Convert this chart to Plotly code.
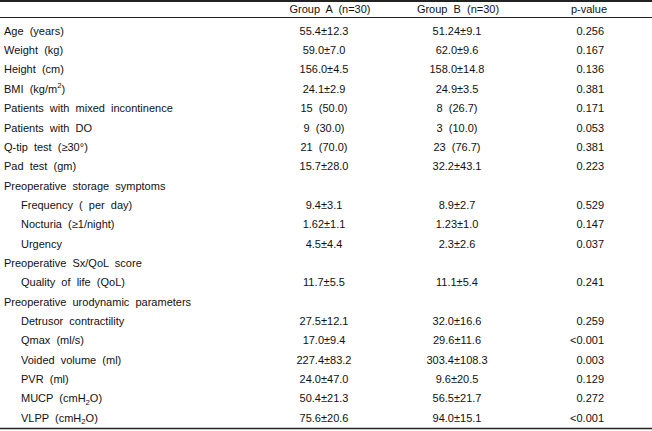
import plotly.graph_objects as go

# ---- data ----
row_labels = [
    "Age  (years)", "Weight  (kg)", "Height  (cm)", "BMI  (kg/m<sup>2</sup>)",
    "Patients  with  mixed  incontinence", "Patients  with  DO",
    "Q-tip  test  (≥30°)", "Pad  test  (gm)",
    "Preoperative  storage  symptoms",
    "Frequency  (  per  day)", "Nocturia  (≥1/night)", "Urgency",
    "Preoperative  Sx/QoL  score",
    "Quality  of  life  (QoL)",
    "Preoperative  urodynamic  parameters",
    "Detrusor  contractility", "Qmax  (ml/s)", "Voided  volume  (ml)",
    "PVR  (ml)", "MUCP  (cmH<sub>2</sub>O)", "VLPP  (cmH<sub>2</sub>O)",
]
indented = [0, 0, 0, 0, 0, 0, 0, 0, 0, 1, 1, 1, 0, 1, 0, 1, 1, 1, 1, 1, 1]
group_a = [
    "55.4±12.3", "59.0±7.0", "156.0±4.5", "24.1±2.9", "15  (50.0)", "9  (30.0)",
    "21  (70.0)", "15.7±28.0", "", "9.4±3.1", "1.62±1.1", "4.5±4.4", "",
    "11.7±5.5", "", "27.5±12.1", "17.0±9.4", "227.4±83.2", "24.0±47.0",
    "50.4±21.3", "75.6±20.6",
]
group_b = [
    "51.24±9.1", "62.0±9.6", "158.0±14.8", "24.9±3.5", "8  (26.7)", "3  (10.0)",
    "23  (76.7)", "32.2±43.1", "", "8.9±2.7", "1.23±1.0", "2.3±2.6", "",
    "11.1±5.4", "", "32.0±16.6", "29.6±11.6", "303.4±108.3", "9.6±20.5",
    "56.5±21.7", "94.0±15.1",
]
p_values = [
    "0.256", "0.167", "0.136", "0.381", "0.171", "0.053", "0.381", "0.223", "",
    "0.529", "0.147", "0.037", "", "0.241", "", "0.259", "<0.001", "0.003",
    "0.129", "0.272", "<0.001",
]
headers = ["Group  A  (n=30)", "Group  B  (n=30)", "p-value"]

# ---- layout constants ----
W, H = 652, 431
FONT = dict(family="Liberation Sans, Arial, sans-serif", size=11, color="#111111")
row_y0, row_step = 32.0, 19.35
header_y = 10.0
x_label, x_indent = 4, 21
x_a, x_b, x_p = 324, 457, 604
hx = [330, 458, 589]

ys = [row_y0 + i * row_step for i in range(len(row_labels))]


def text_trace(xs, yv, texts, pos):
    keep = [i for i, t in enumerate(texts) if t]
    return go.Scatter(
        x=[xs[i] for i in keep], y=[yv[i] for i in keep],
        text=[texts[i] for i in keep], mode="text", textposition=pos,
        textfont=FONT, hoverinfo="skip", showlegend=False)


fig = go.Figure()
fig.add_trace(text_trace([x_indent if ind else x_label for ind in indented], ys,
                         row_labels, "middle right"))
fig.add_trace(text_trace([x_a] * len(group_a), ys, group_a, "middle center"))
fig.add_trace(text_trace([x_b] * len(group_b), ys, group_b, "middle center"))
fig.add_trace(text_trace([x_p] * len(p_values), ys, p_values, "middle left"))
fig.add_trace(text_trace(hx, [header_y] * 3, headers, "middle center"))

# rules
line_col = "#222222"
fig.add_shape(type="line", x0=0, x1=W, y0=1, y1=1, line=dict(color=line_col, width=2))
fig.add_shape(type="line", x0=0, x1=W, y0=17.5, y1=17.5, line=dict(color=line_col, width=1))
fig.add_shape(type="line", x0=0, x1=W, y0=428.5, y1=428.5, line=dict(color=line_col, width=1.5))

fig.update_layout(
    width=W, height=H, margin=dict(l=0, r=0, t=0, b=0),
    paper_bgcolor="white", plot_bgcolor="white",
    xaxis=dict(range=[0, W], visible=False, fixedrange=True),
    yaxis=dict(range=[H, 0], visible=False, fixedrange=True),
)

fig.write_html("out.html", config={"displayModeBar": False},
               post_script="document.body.style.margin='0';document.body.style.overflow='hidden';")
